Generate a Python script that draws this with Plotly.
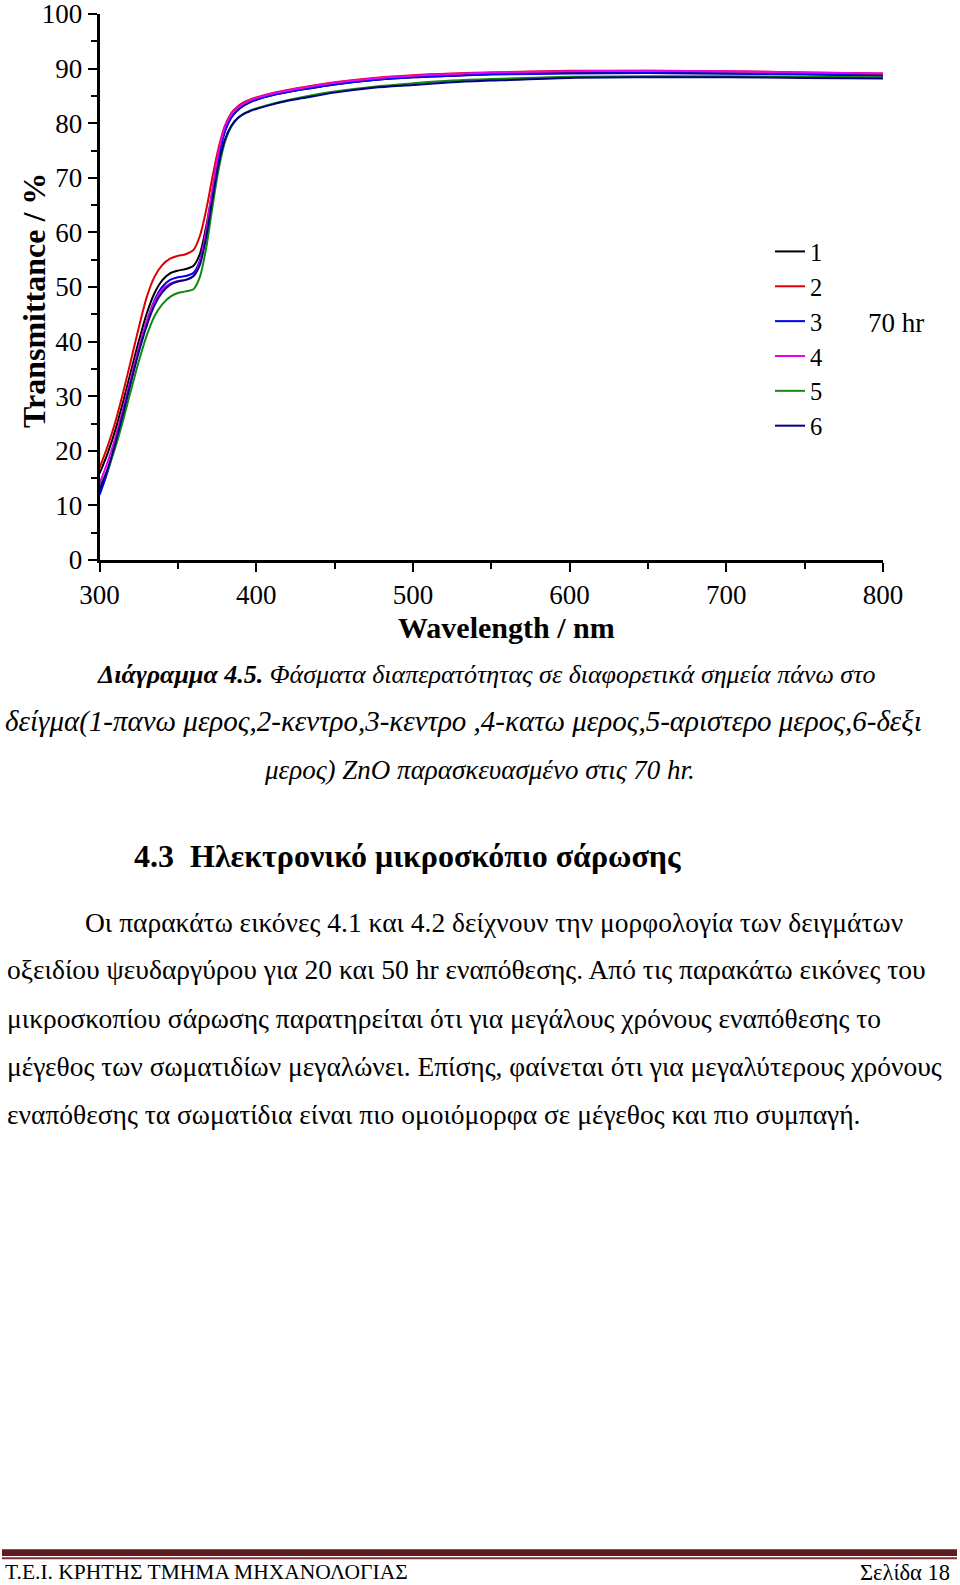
import plotly.graph_objects as go

W, H = 960, 1585

wavelength = [300, 305, 310, 315, 320, 325, 330, 335, 340, 345, 350, 355, 360, 364, 368, 372,
              376, 380, 384, 388, 392, 396, 400, 410, 420, 430, 450, 475, 500, 525, 550, 600,
              650, 700, 750, 800]

s1_black = [15.8, 19.4, 23.7, 28.9, 34.5, 40.0, 45.0, 48.8, 51.2, 52.5, 53.0, 53.3, 53.9, 56.0, 61.0, 67.5,
            74.0, 78.5, 81.0, 82.3, 83.2, 83.8, 84.3, 85.1, 85.7, 86.2, 87.1, 87.9, 88.4, 88.7, 89.0, 89.2,
            89.2, 89.1, 89.0, 88.8]
s2_red = [16.9, 20.7, 25.2, 30.6, 36.5, 42.5, 48.0, 51.8, 54.0, 55.2, 55.7, 56.0, 56.8, 59.3, 64.0, 70.0,
          75.5, 79.5, 81.8, 83.0, 83.8, 84.3, 84.7, 85.5, 86.1, 86.6, 87.5, 88.3, 88.8, 89.1, 89.3, 89.6,
          89.6, 89.5, 89.3, 89.1]
s3_blue = [11.9, 16.0, 21.0, 26.8, 32.8, 38.5, 43.5, 47.5, 50.0, 51.3, 51.8, 52.0, 52.6, 54.8, 60.0, 67.0,
           73.8, 78.5, 81.0, 82.4, 83.3, 83.9, 84.3, 85.1, 85.7, 86.2, 87.1, 87.9, 88.4, 88.7, 88.9, 89.1,
           89.2, 89.1, 88.9, 88.7]
s4_magenta = [14.0, 17.8, 22.3, 27.6, 33.3, 38.8, 43.6, 47.2, 49.5, 50.6, 51.1, 51.3, 52.0, 54.5, 60.2, 67.8,
              74.8, 79.3, 81.6, 82.8, 83.6, 84.2, 84.6, 85.4, 86.0, 86.5, 87.4, 88.2, 88.7, 89.0, 89.3, 89.5,
              89.6, 89.5, 89.3, 89.1]
s5_green = [13.4, 16.3, 20.5, 25.5, 31.0, 36.3, 41.0, 44.6, 46.8, 48.2, 48.9, 49.2, 49.6, 51.8, 57.0, 64.5,
            71.5, 76.5, 79.3, 80.8, 81.7, 82.3, 82.7, 83.5, 84.2, 84.8, 85.8, 86.7, 87.3, 87.8, 88.1, 88.5,
            88.6, 88.6, 88.5, 88.4]
s6_navy = [12.8, 16.5, 21.3, 26.8, 32.5, 38.0, 42.8, 46.6, 49.0, 50.4, 51.0, 51.3, 52.0, 54.0, 59.0, 66.0,
           72.5, 77.0, 79.5, 80.9, 81.7, 82.2, 82.6, 83.4, 84.1, 84.6, 85.6, 86.5, 87.0, 87.5, 87.8, 88.3,
           88.4, 88.4, 88.3, 88.2]

series_names = ["1", "2", "3", "4", "5", "6"]
series_values = [s1_black, s2_red, s3_blue, s4_magenta, s5_green, s6_navy]
series_colors = ["#000000", "#dd0000", "#0000ee", "#ee00ee", "#118811", "#000080"]

x_ticks = [300, 400, 500, 600, 700, 800]
y_ticks = [0, 10, 20, 30, 40, 50, 60, 70, 80, 90, 100]

caption_lines = [
    "<b>Διάγραμμα 4.5.</b> Φάσματα διαπερατότητας σε διαφορετικά σημεία πάνω στο",
    "δείγμα(1-πανω μερος,2-κεντρο,3-κεντρο ,4-κατω μερος,5-αριστερο μερος,6-δεξι",
    "μερος) ZnO παρασκευασμένο στις 70 hr.",
]
heading = "<b>4.3  Ηλεκτρονικό μικροσκόπιο σάρωσης</b>"
body_lines = [
    "Οι παρακάτω εικόνες 4.1 και 4.2 δείχνουν την μορφολογία των δειγμάτων",
    "οξειδίου ψευδαργύρου για 20 και 50 hr εναπόθεσης. Από τις παρακάτω εικόνες του",
    "μικροσκοπίου σάρωσης παρατηρείται ότι για μεγάλους χρόνους εναπόθεσης το",
    "μέγεθος των σωματιδίων μεγαλώνει. Επίσης, φαίνεται ότι για μεγαλύτερους χρόνους",
    "εναπόθεσης τα σωματίδια είναι πιο ομοιόμορφα σε μέγεθος και πιο συμπαγή.",
]
footer_left = "Τ.Ε.Ι. ΚΡΗΤΗΣ ΤΜΗΜΑ ΜΗΧΑΝΟΛΟΓΙΑΣ"
footer_right = "Σελίδα 18"

SERIF = "Liberation Serif, Times New Roman, serif"


def px(x):
    return x / W


def py(y):
    return 1 - y / H


fig = go.Figure()
for name, vals, col in zip(series_names, series_values, series_colors):
    fig.add_trace(go.Scatter(x=wavelength, y=vals, mode="lines", name=name,
                             line=dict(color=col, width=2, shape="spline", smoothing=0.8)))

axis_common = dict(showline=True, linecolor="black", linewidth=2.5, ticks="outside",
                   tickcolor="black", tickwidth=2, ticklen=9, showgrid=False, zeroline=False,
                   automargin=False, ticklabeloverflow="allow",
                   tickfont=dict(family=SERIF, size=27, color="black"))

fig.update_xaxes(range=[300, 800], domain=[px(99.5), px(883)], tickvals=x_ticks,
                 minor=dict(dtick=50, ticks="outside", ticklen=6, tickwidth=2, tickcolor="black"),
                 **axis_common)
fig.update_yaxes(range=[0, 100], domain=[py(560), py(14)], tickvals=y_ticks,
                 minor=dict(dtick=5, ticks="outside", ticklen=6, tickwidth=2, tickcolor="black"),
                 **axis_common)

ann = []
ann.append(dict(text="<b>Transmittance / %</b>", x=px(34), y=py(301), textangle=-90,
                font=dict(family=SERIF, size=32, color="black")))
ann.append(dict(text="<b>Wavelength / nm</b>", x=px(506), y=py(627),
                font=dict(family=SERIF, size=30, color="black")))
ann.append(dict(text="70 hr", x=px(866), y=py(323), xanchor="left",
                font=dict(family=SERIF, size=27, color="black")))

cap_pos = [(486, 674), (463, 721), (479, 770)]
cap_sizes = [26, 29, 27]
for t, (x, y), s in zip(caption_lines, cap_pos, cap_sizes):
    ann.append(dict(text="<i>" + t + "</i>", x=px(x), y=py(y),
                    font=dict(family=SERIF, size=s, color="black")))

ann.append(dict(text=heading, x=px(132), y=py(856), xanchor="left",
                font=dict(family=SERIF, size=32, color="black")))

body_pos = [(83, 922), (5, 969), (5, 1018), (5, 1066), (5, 1114)]
for t, (x, y) in zip(body_lines, body_pos):
    ann.append(dict(text=t, x=px(x), y=py(y), xanchor="left",
                    font=dict(family=SERIF, size=27.5, color="black")))

ann.append(dict(text=footer_left, x=px(3), y=py(1572), xanchor="left",
                font=dict(family=SERIF, size=21.5, color="black")))
ann.append(dict(text=footer_right, x=px(952), y=py(1572), xanchor="right",
                font=dict(family=SERIF, size=22.5, color="black")))

for a in ann:
    a.update(xref="paper", yref="paper", showarrow=False, yanchor=a.get("yanchor", "middle"),
             xanchor=a.get("xanchor", "center"))

shapes = [
    dict(type="rect", xref="paper", yref="paper", x0=px(2), x1=px(957), y0=py(1556), y1=py(1549.3),
         fillcolor="#5e1c20", line=dict(width=0)),
    dict(type="rect", xref="paper", yref="paper", x0=px(2), x1=px(957), y0=py(1559.3), y1=py(1557.3),
         fillcolor="#7a3035", line=dict(width=0)),
]

fig.update_layout(
    width=W, height=H, margin=dict(l=0, r=0, t=0, b=0),
    paper_bgcolor="white", plot_bgcolor="white",
    annotations=ann, shapes=shapes,
    showlegend=True,
    legend=dict(x=px(770), y=py(229), xanchor="left", yanchor="top",
                font=dict(family=SERIF, size=24.5, color="black"),
                bgcolor="rgba(0,0,0,0)", borderwidth=0, tracegroupgap=0),
)

fig.write_html("out.html", config={"displayModeBar": False},
               post_script="document.body.style.margin='0px';document.body.style.overflow='hidden';")
